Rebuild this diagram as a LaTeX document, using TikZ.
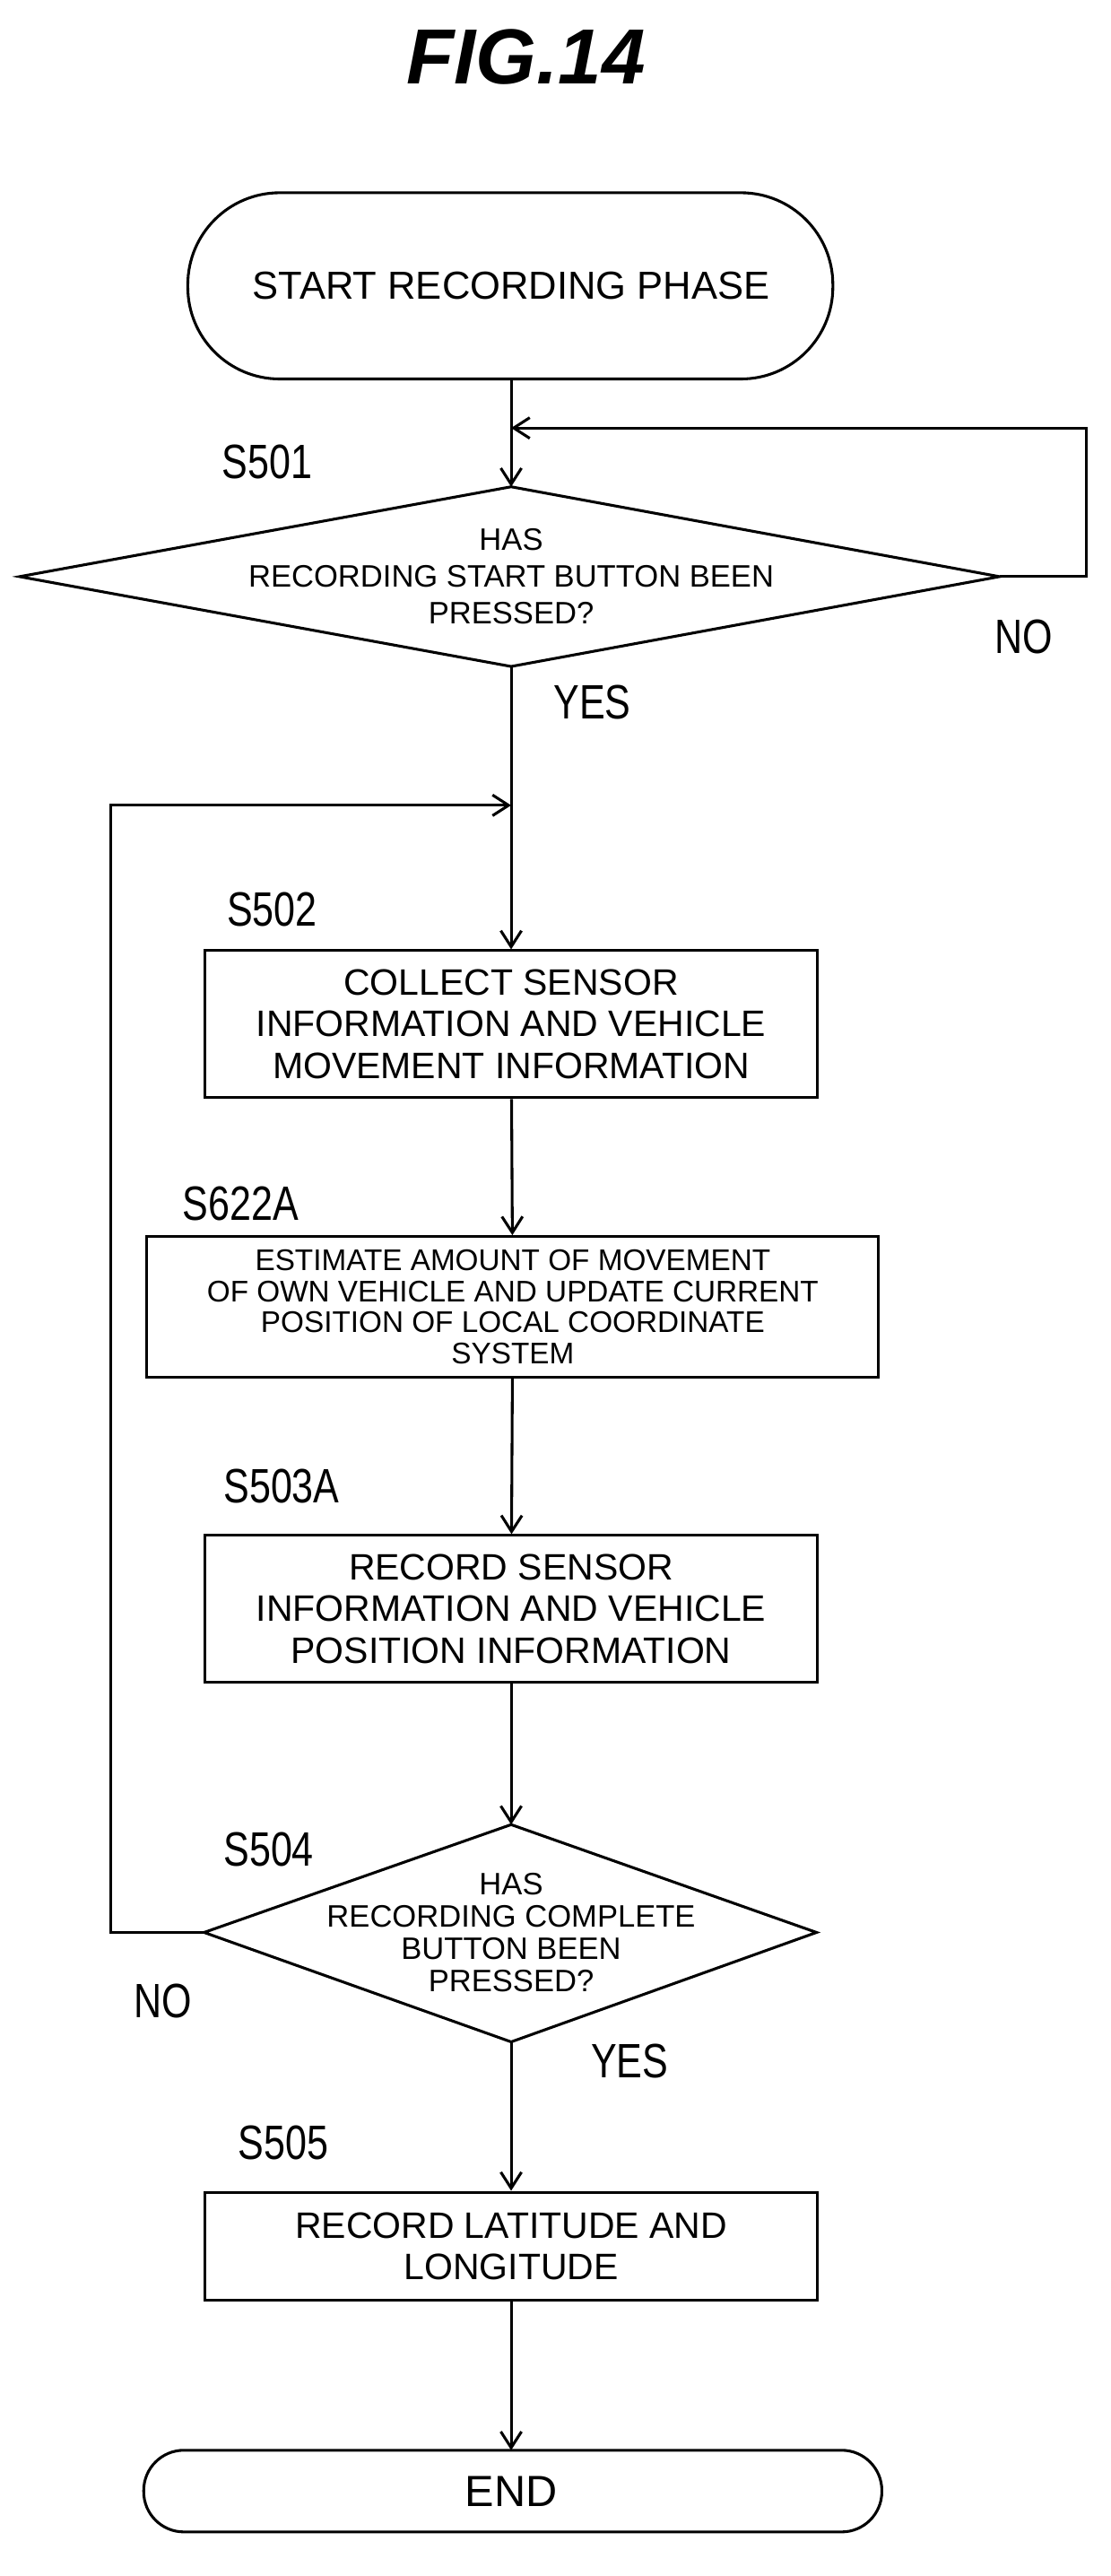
\documentclass[tikz,border=0pt]{standalone}
\usepackage{fontspec}
\setmainfont{Liberation Sans}
\usetikzlibrary{shapes.geometric,arrows.meta}
\tikzset{
  box/.style={draw,line width=1.2pt,align=center,font=\fontsize{16}{18}\selectfont},
  steplbl/.style={font=\fontsize{21}{23}\selectfont,xscale=0.8,anchor=west},
  flow/.style={line width=1.2pt,-{Straight Barb[length=7pt,width=9pt]}},
  lnk/.style={line width=1.2pt}
}
\begin{document}
\begin{tikzpicture}[x=0.025cm,y=-0.025cm]
\useasboundingbox (0,0) rectangle (680,1577);
\node (title) at (322,35) {\fontsize{34}{36}\selectfont\bfseries\itshape FIG.14};
% terminals
\draw[line width=1.2pt,rounded corners=40pt] (115,118) rectangle (510,232);
\node[font=\fontsize{17}{19}\selectfont] (start) at (313,175) {START RECORDING PHASE};
\coordinate (sb) at (313,232);
\draw[line width=1.2pt,rounded corners=17.5pt] (88,1500) rectangle (540,1550);
\node[font=\fontsize{19}{21}\selectfont] (end) at (313,1525) {END};
\coordinate (et) at (313,1500);
% decisions
\draw[lnk] (12,353) -- (313,298) -- (612,353) -- (313,408) -- cycle;
\coordinate (d1t) at (313,298); \coordinate (d1r) at (612,353); \coordinate (d1b) at (313,408);
\node[align=center,font=\fontsize{13.5}{16}\selectfont] (d1) at (313,353) {HAS\\RECORDING START BUTTON BEEN\\PRESSED?};
\draw[lnk] (125,1183) -- (313,1117) -- (500,1183) -- (313,1250) -- cycle;
\coordinate (d2t) at (313,1117); \coordinate (d2l) at (125,1183); \coordinate (d2b) at (313,1250);
\node[align=center,font=\fontsize{13.5}{14}\selectfont] (d2) at (313,1183) {HAS\\RECORDING COMPLETE\\BUTTON BEEN\\PRESSED?};
% process boxes
\node[box,minimum width=375*0.025cm,minimum height=90*0.025cm] (s502) at (313,627) {COLLECT SENSOR\\INFORMATION AND VEHICLE\\MOVEMENT INFORMATION};
\node[box,minimum width=448*0.025cm,minimum height=86*0.025cm,font=\fontsize{13}{13.5}\selectfont] (s622) at (314,800) {ESTIMATE AMOUNT OF MOVEMENT\\OF OWN VEHICLE AND UPDATE CURRENT\\POSITION OF LOCAL COORDINATE\\SYSTEM};
\node[box,minimum width=375*0.025cm,minimum height=90*0.025cm] (s503) at (313,985) {RECORD SENSOR\\INFORMATION AND VEHICLE\\POSITION INFORMATION};
\node[box,minimum width=375*0.025cm,minimum height=66*0.025cm] (s505) at (313,1375) {RECORD LATITUDE AND\\LONGITUDE};
% step labels
\node[steplbl] (l501) at (132,283) {S501};
\node[steplbl] (l502) at (135,557) {S502};
\node[steplbl] (l622) at (108,737) {S622A};
\node[steplbl] (l503) at (133,910) {S503A};
\node[steplbl] (l504) at (133,1132) {S504};
\node[steplbl] (l505) at (142,1312) {S505};
\node[steplbl] (no1) at (605,390) {NO};
\node[steplbl] (yes1) at (335,430) {YES};
\node[steplbl] (no2) at (78,1225) {NO};
\node[steplbl] (yes2) at (358,1262) {YES};
% connectors
\coordinate (j1) at (313,262);
\coordinate (j2) at (313,493);
\draw[flow] (sb) -- (d1t);
\draw[flow] (d1r) -- (665,353) -- (665,262) -- (j1);
\draw[flow] (d1b) -- (s502);
\draw[flow] (d2l) -- (68,1183) -- (68,493) -- (j2);
\draw[flow] (s502) -- (s622);
\draw[flow] (s622) -- (s503);
\draw[flow] (s503) -- (d2t);
\draw[flow] (d2b) -- (s505);
\draw[flow] (s505) -- (et);
\end{tikzpicture}
\end{document}
